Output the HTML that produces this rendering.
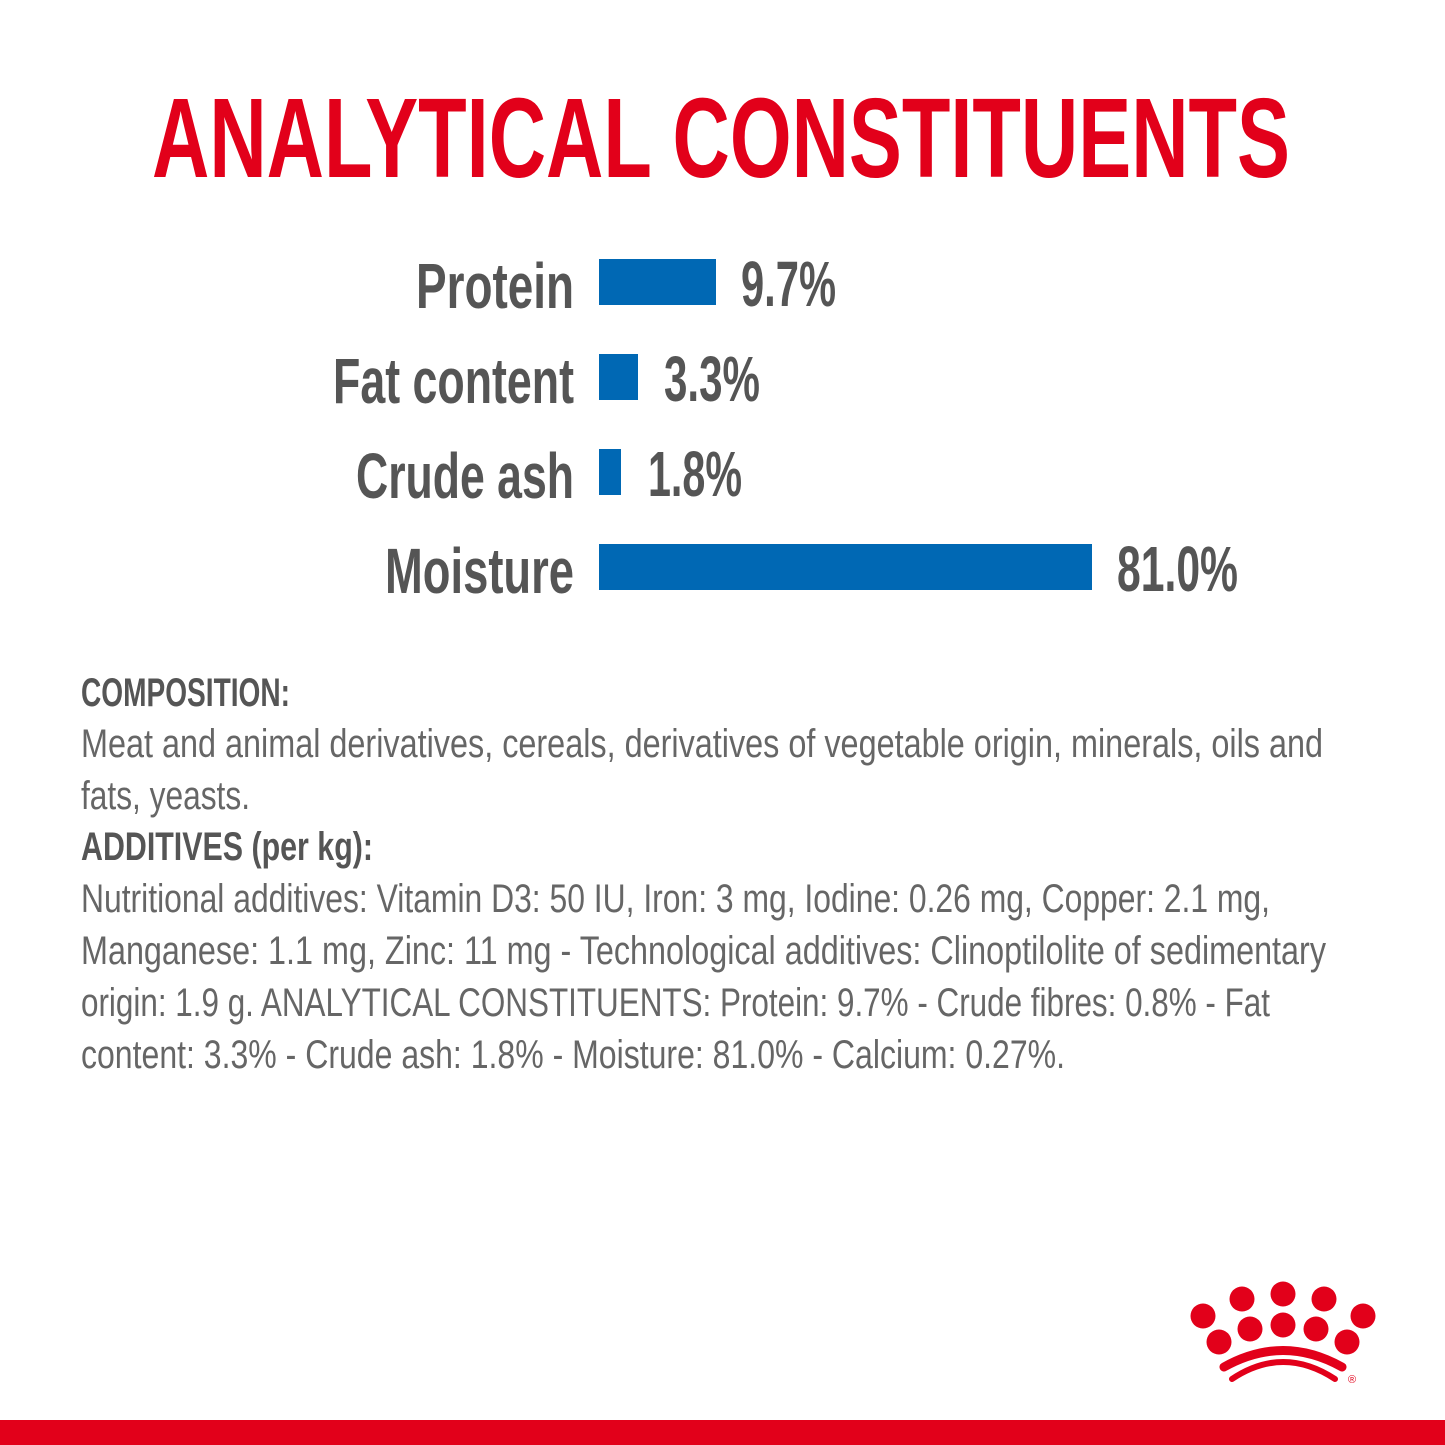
<!DOCTYPE html>
<html><head><style>html,body{margin:0;padding:0;background:#fff}svg{display:block}</style></head>
<body>
<svg width="1445" height="1445" viewBox="0 0 1445 1445" xmlns="http://www.w3.org/2000/svg">
<rect width="1445" height="1445" fill="#fff"/>
<g font-family="Liberation Sans Narrow, Liberation Sans, sans-serif">
<text x="152" y="177" font-size="113" font-weight="bold" fill="#e2001a" textLength="1138" lengthAdjust="spacingAndGlyphs">ANALYTICAL CONSTITUENTS</text>
<g font-size="64" font-weight="bold" fill="#555">
<text x="416" y="308" textLength="158" lengthAdjust="spacingAndGlyphs">Protein</text>
<text x="333" y="403" textLength="241" lengthAdjust="spacingAndGlyphs">Fat content</text>
<text x="356" y="498" textLength="218" lengthAdjust="spacingAndGlyphs">Crude ash</text>
<text x="385" y="593" textLength="189" lengthAdjust="spacingAndGlyphs">Moisture</text>
<text x="741" y="306" textLength="95" lengthAdjust="spacingAndGlyphs">9.7%</text>
<text x="664" y="401" textLength="96" lengthAdjust="spacingAndGlyphs">3.3%</text>
<text x="648" y="496" textLength="94" lengthAdjust="spacingAndGlyphs">1.8%</text>
<text x="1117" y="591" textLength="121" lengthAdjust="spacingAndGlyphs">81.0%</text>
</g>
<g fill="#0068b4">
<rect x="599" y="259" width="117" height="46"/>
<rect x="599" y="354" width="39" height="46"/>
<rect x="599" y="449" width="22" height="46"/>
<rect x="599" y="544" width="493" height="46"/>
</g>
<g font-size="40" fill="#666">
<text x="81" y="706" font-weight="bold" fill="#555" textLength="209" lengthAdjust="spacingAndGlyphs">COMPOSITION:</text>
<text x="81" y="757" textLength="1242" lengthAdjust="spacingAndGlyphs">Meat and animal derivatives, cereals, derivatives of vegetable origin, minerals, oils and</text>
<text x="81" y="809" textLength="169" lengthAdjust="spacingAndGlyphs">fats, yeasts.</text>
<text x="81" y="860" font-weight="bold" fill="#555" textLength="292" lengthAdjust="spacingAndGlyphs">ADDITIVES (per kg):</text>
<text x="81" y="912" textLength="1189" lengthAdjust="spacingAndGlyphs">Nutritional additives: Vitamin D3: 50 IU, Iron: 3 mg, Iodine: 0.26 mg, Copper: 2.1 mg,</text>
<text x="81" y="964" textLength="1245" lengthAdjust="spacingAndGlyphs">Manganese: 1.1 mg, Zinc: 11 mg - Technological additives: Clinoptilolite of sedimentary</text>
<text x="81" y="1016" textLength="1189" lengthAdjust="spacingAndGlyphs">origin: 1.9 g. ANALYTICAL CONSTITUENTS: Protein: 9.7% - Crude fibres: 0.8% - Fat</text>
<text x="81" y="1068" textLength="984" lengthAdjust="spacingAndGlyphs">content: 3.3% - Crude ash: 1.8% - Moisture: 81.0% - Calcium: 0.27%.</text>
</g>
</g>
<g fill="#e2001a">
<circle cx="1242" cy="1299" r="12.5"/><circle cx="1283" cy="1294" r="12.5"/><circle cx="1324" cy="1299" r="12.5"/>
<circle cx="1203" cy="1316" r="12.5"/><circle cx="1363" cy="1316" r="12.5"/>
<circle cx="1219" cy="1342" r="12.5"/><circle cx="1250" cy="1329" r="12.5"/><circle cx="1283" cy="1325" r="12.5"/><circle cx="1316" cy="1329" r="12.5"/><circle cx="1347" cy="1342" r="12.5"/>
</g>
<g fill="none" stroke="#e2001a" stroke-linecap="round">
<path d="M1224 1367 Q1283 1334 1342 1367" stroke-width="9"/>
<path d="M1232 1379 Q1283 1345 1335 1379" stroke-width="6"/>
</g>
<text x="1352" y="1383" font-size="11" font-family="Liberation Sans, sans-serif" fill="#e2001a" text-anchor="middle">®</text>
<rect x="0" y="1420" width="1445" height="25" fill="#e2001a"/>
</svg>
</body></html>
